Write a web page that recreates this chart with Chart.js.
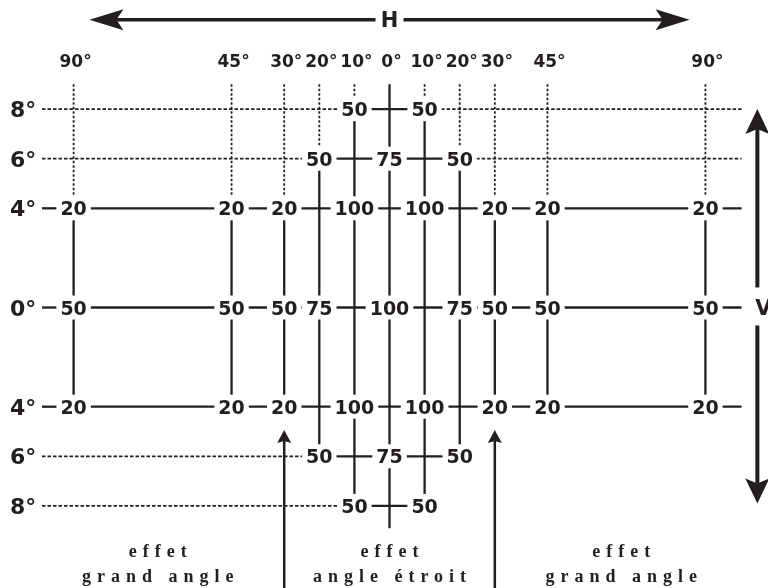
<!DOCTYPE html>
<html><head><meta charset="utf-8">
<script src="https://cdn.jsdelivr.net/npm/chart.js@4"></script>
<style>html,body{margin:0;padding:0;background:#fff}#wrap{width:768px;height:588px;position:relative}</style>
</head><body><div id="wrap"><canvas id="c"></canvas></div>
<script>
// ---- data ----
const hAngles = [-90, -45, -30, -20, -10, 0, 10, 20, 30, 45, 90];
const hLabels = ['90°', '45°', '30°', '20°', '10°', '0°', '10°', '20°', '30°', '45°', '90°'];
const vAngles = [8, 6, 4, 0, -4, -6, -8];
const vLabels = ['8°', '6°', '4°', '0°', '4°', '6°', '8°'];
const row8  = [null, null, null, null, 50, null, 50, null, null, null, null];
const row6  = [null, null, null, 50, null, 75, null, 50, null, null, null];
const row4  = [20, 20, 20, null, 100, null, 100, null, 20, 20, 20];
const row0  = [50, 50, 50, 75, null, 100, null, 75, 50, 50, 50];
const rowM4 = [20, 20, 20, null, 100, null, 100, null, 20, 20, 20];
const rowM6 = [null, null, null, 50, null, 75, null, 50, null, null, null];
const rowM8 = [null, null, null, null, 50, null, 50, null, null, null, null];
const rows = [row8, row6, row4, row0, rowM4, rowM6, rowM8];
const axisTitles = ['H', 'V'];
const captionTop = ['effet', 'effet', 'effet'];
const captionBottom = ['grand angle', 'angle étroit', 'grand angle'];
const captionAngles = [-66, 0, 66];
const pointerAngles = [-30, 30];

// ---- layout constants (scale units) ----
const INK = '#231f20';
const X_MIN = -110.97, X_MAX = 107.83, Y_MIN = -11.31, Y_MAX = 12.40;
const EDGE_L = -99, EDGE_R = 100.3, TOP = 9;

// ---- build line segments from the value grid ----
const segs = [];
function seg(x1, y1, x2, y2, dotted, vertical) { segs.push({x1, y1, x2, y2, dotted, vertical}); }
rows.forEach((r, i) => {
  const y = vAngles[i];
  const idx = r.map((v, j) => v == null ? -1 : j).filter(j => j >= 0);
  const a = hAngles[idx[0]], b = hAngles[idx[idx.length - 1]];
  const outer = Math.abs(y) >= 6;
  seg(a, y, b, y, false, false);
  seg(EDGE_L, y, a, y, outer, false);
  if (!(outer && y < 0)) seg(b, y, EDGE_R, y, outer, false);
});
hAngles.forEach((h, j) => {
  const idx = rows.map((r, i) => r[j] == null ? -1 : i).filter(i => i >= 0);
  const top = vAngles[idx[0]], bot = vAngles[idx[idx.length - 1]];
  seg(h, top, h, bot, false, true);
  seg(h, TOP, h, top, h !== 0, true);
  if (h === 0) seg(h, bot, h, -TOP + 0.1, false, true);
});

const datasets = segs.map(s => ({
  data: [{x: s.x1, y: s.y1}, {x: s.x2, y: s.y2}],
  showLine: true,
  borderColor: INK,
  borderWidth: s.dotted ? 1.8 : 2.3,
  borderDash: s.dotted ? (s.vertical ? [2.5, 2] : [3.5, 2]) : [],
  pointRadius: 0,
  pointHoverRadius: 0,
  fill: false,
  clip: false
}));

function arrowHead(ctx, tx, ty, dx, dy, len, half, notch) {
  const nx = -dy, ny = dx;
  ctx.beginPath();
  ctx.moveTo(tx, ty);
  ctx.lineTo(tx - dx * len + nx * half, ty - dy * len + ny * half);
  ctx.lineTo(tx - dx * notch, ty - dy * notch);
  ctx.lineTo(tx - dx * len - nx * half, ty - dy * len - ny * half);
  ctx.closePath();
  ctx.fill();
}

const overlay = {
  id: 'overlay',
  afterDatasetsDraw(chart) {
    const {ctx, chartArea, scales: {x, y}} = chart;
    ctx.save();
    ctx.fillStyle = INK; ctx.strokeStyle = INK;

    // H arrow
    const hy = y.getPixelForValue(11.6);
    const hl = x.getPixelForValue(-85.5), hr = x.getPixelForValue(85.5), hc = x.getPixelForValue(0);
    ctx.lineWidth = 3.5; ctx.setLineDash([]);
    ctx.beginPath(); ctx.moveTo(hl + 25, hy); ctx.lineTo(hc - 14, hy);
    ctx.moveTo(hc + 14, hy); ctx.lineTo(hr - 25, hy); ctx.stroke();
    arrowHead(ctx, hl, hy, -1, 0, 34, 10.5, 27);
    arrowHead(ctx, hr, hy, 1, 0, 34, 10.5, 27);
    ctx.font = 'bold 21px "DejaVu Sans"'; ctx.textAlign = 'center'; ctx.textBaseline = 'alphabetic';
    ctx.fillText(axisTitles[0], hc, hy + 7.5);

    // V arrow
    const vx = x.getPixelForValue(104.8);
    const vt = y.getPixelForValue(8), vb = y.getPixelForValue(-7.9), vc = y.getPixelForValue(0);
    ctx.lineWidth = 4;
    ctx.beginPath(); ctx.moveTo(vx, vt + 18); ctx.lineTo(vx, vc - 20);
    ctx.moveTo(vx, vc + 18); ctx.lineTo(vx, vb - 18); ctx.stroke();
    arrowHead(ctx, vx, vt, 0, -1, 25, 12, 20);
    arrowHead(ctx, vx, vb, 0, 1, 25, 12, 20);
    ctx.fillText(axisTitles[1], vx + 6, vc + 7.5);

    // pointer arrows
    ctx.lineWidth = 2.5;
    pointerAngles.forEach(a => {
      const px = x.getPixelForValue(a);
      const tip = y.getPixelForValue(-4.94);
      ctx.beginPath(); ctx.moveTo(px, chartArea.bottom + 2); ctx.lineTo(px, tip + 10); ctx.stroke();
      arrowHead(ctx, px, tip, 0, -1, 13, 7, 11);
    });

    // value labels with white knock-out
    ctx.font = 'bold 19px "DejaVu Sans"';
    ctx.textAlign = 'center'; ctx.textBaseline = 'alphabetic';
    rows.forEach((r, i) => r.forEach((v, j) => {
      if (v == null) return;
      const px = x.getPixelForValue(hAngles[j]), py = y.getPixelForValue(vAngles[i]);
      const t = String(v), w = ctx.measureText(t).width;
      ctx.fillStyle = '#fff';
      ctx.fillRect(px - w / 2 - 4, py - 12, w + 8, 24);
      ctx.fillStyle = INK;
      ctx.fillText(t, px, py + 7);
    }));

    // column labels
    ctx.font = 'bold 17px "DejaVu Sans"';
    hLabels.forEach((t, j) => {
      ctx.fillText(t, x.getPixelForValue(hAngles[j]) + 2, chartArea.top + 67);
    });

    // row labels
    ctx.font = 'bold 22px "DejaVu Sans"'; ctx.textAlign = 'left';
    vLabels.forEach((t, i) => {
      ctx.fillText(t, chartArea.left + 10, y.getPixelForValue(vAngles[i]) + 8);
    });

    // captions
    ctx.font = 'bold 18px "Liberation Serif"'; ctx.textAlign = 'center';
    const sp = 6;
    ctx.letterSpacing = sp + 'px';
    captionAngles.forEach((a, k) => {
      const px = x.getPixelForValue(a) + sp / 2;
      ctx.fillText(captionTop[k], px, y.getPixelForValue(-10.06));
      ctx.fillText(captionBottom[k], px, y.getPixelForValue(-11.07));
    });
    ctx.letterSpacing = '0px';
    ctx.restore();
  }
};

new Chart(document.getElementById('c'), {
  type: 'scatter',
  data: {datasets},
  options: {
    responsive: true,
    maintainAspectRatio: false,
    animation: false,
    layout: {padding: 0},
    events: [],
    plugins: {legend: {display: false}, tooltip: {enabled: false}},
    scales: {
      x: {type: 'linear', display: false, min: X_MIN, max: X_MAX},
      y: {type: 'linear', display: false, min: Y_MIN, max: Y_MAX}
    }
  },
  plugins: [overlay]
});
</script>
</body></html>
